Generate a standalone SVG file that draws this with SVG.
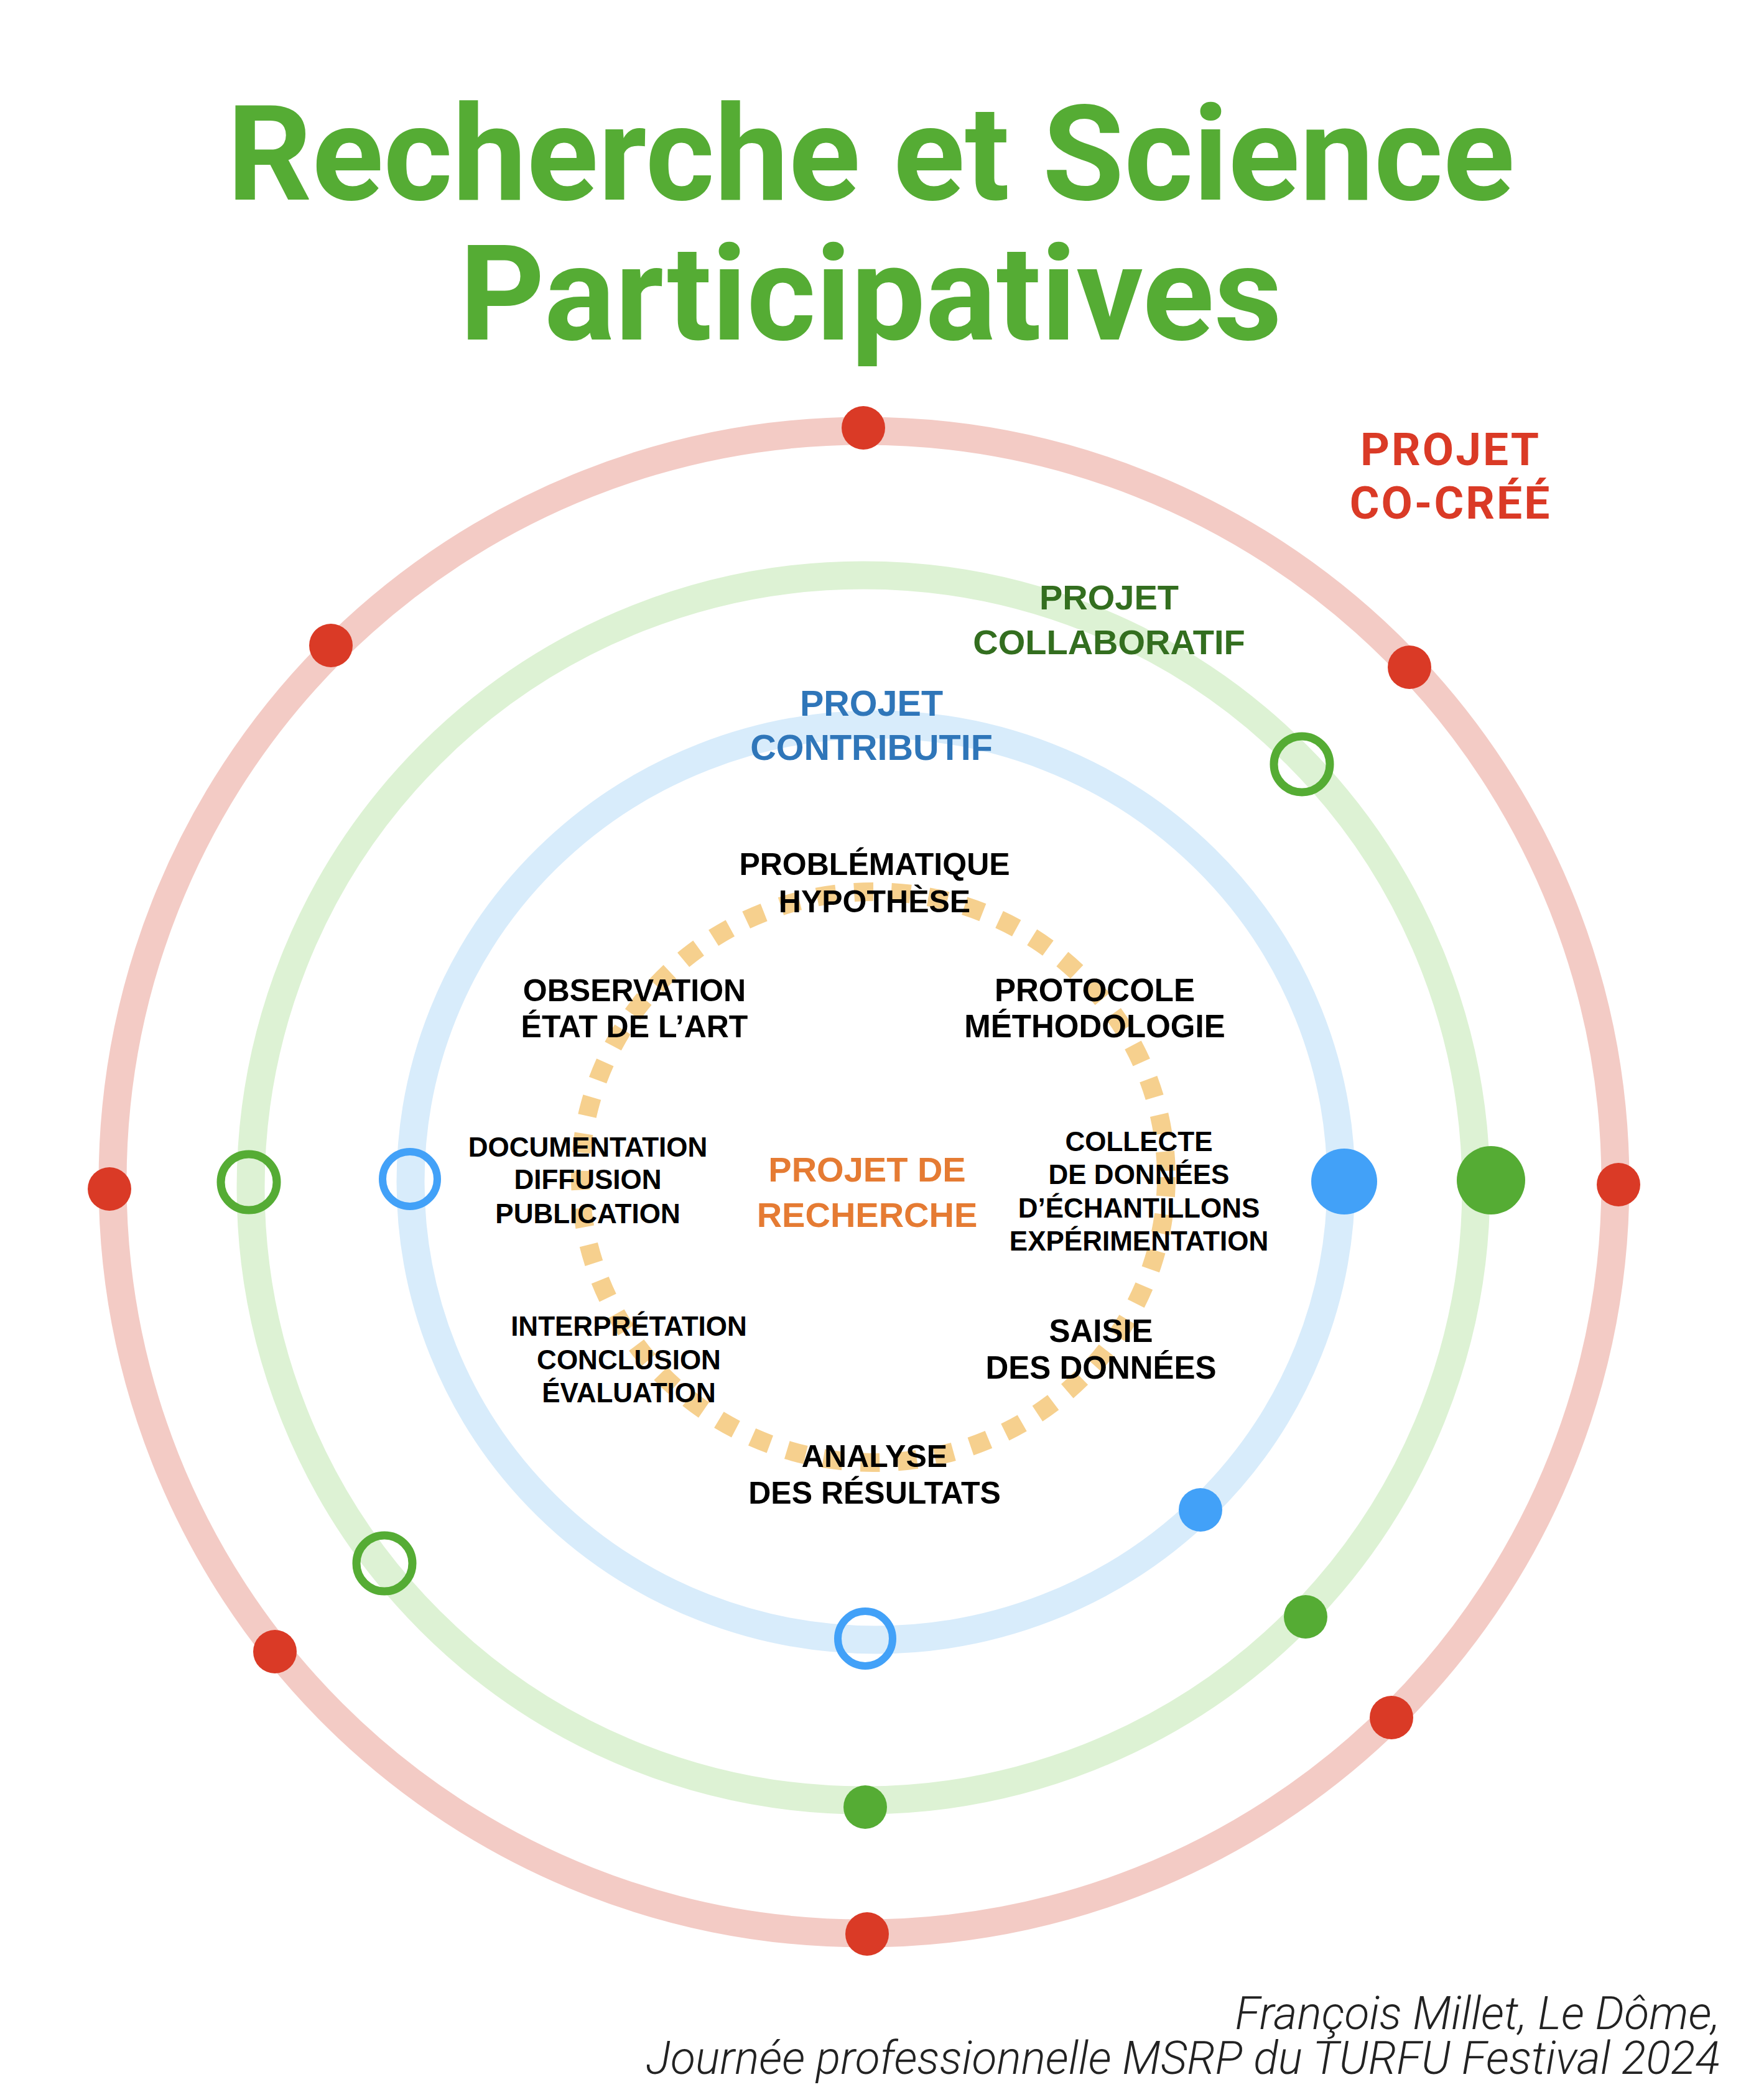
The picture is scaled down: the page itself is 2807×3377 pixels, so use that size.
<svg xmlns="http://www.w3.org/2000/svg" width="2807" height="3377" viewBox="0 0 2807 3377">
<style>
.ring{fill:none;stroke-width:45}
.r-red{stroke:#F3CBC5}
.r-green{stroke:#DDF2D4}
.r-blue{stroke:#D8ECFB}
.r-orange{fill:none;stroke:#F6D08E;stroke-width:30;stroke-dasharray:31 29}
.d-red{fill:#DA3A26}
.d-green{fill:#55AC34}
.d-blue{fill:#42A1F8}
.o-green{fill:none;stroke:#55AC34;stroke-width:13}
.o-blue{fill:none;stroke:#42A1F8;stroke-width:12}
.title{font-family:Roboto,"Liberation Sans",sans-serif;font-weight:700;font-size:213px;fill:#55AC34;text-anchor:middle}
.lbl{font-family:"Liberation Sans",Arial,sans-serif;font-weight:700;text-anchor:middle}
.step{font-family:"Liberation Sans",Arial,sans-serif;font-weight:700;fill:#000;text-anchor:middle}
.cocree{font-family:Roboto,"Liberation Sans",sans-serif;font-weight:700;font-size:73px;fill:#DA3A26;text-anchor:middle;letter-spacing:3px}
.credit{font-family:Roboto,"Liberation Sans",sans-serif;font-weight:300;font-style:italic;font-size:73.5px;fill:#222;text-anchor:end}
</style>
<rect width="2807" height="3377" fill="#fff"/>
<g id="title">
<text class="title" x="1400" y="321">Recherche et Science</text>
<text class="title" x="1400" y="546">Participatives</text>
</g>
<g id="rings">
<circle class="ring r-red" cx="1389" cy="1901" r="1208"/>
<circle class="ring r-green" cx="1388" cy="1910" r="985"/>
<ellipse class="ring r-blue" cx="1408" cy="1901" rx="748" ry="736"/>
<ellipse class="r-orange" cx="1404" cy="1893" rx="471" ry="459"/>
</g>
<g id="dots-red">
<circle class="d-red" cx="1388" cy="688" r="35"/>
<circle class="d-red" cx="532" cy="1038" r="35"/>
<circle class="d-red" cx="2266" cy="1073" r="35"/>
<circle class="d-red" cx="176" cy="1912" r="35"/>
<circle class="d-red" cx="2602" cy="1905" r="35"/>
<circle class="d-red" cx="442" cy="2656" r="35"/>
<circle class="d-red" cx="2237" cy="2762" r="35"/>
<circle class="d-red" cx="1394" cy="3110" r="35"/>
</g>
<g id="dots-green">
<circle class="o-green" cx="400" cy="1901" r="45"/>
<circle class="o-green" cx="2093" cy="1229" r="45"/>
<circle class="o-green" cx="618" cy="2514" r="45"/>
<circle class="d-green" cx="2397" cy="1898" r="55"/>
<circle class="d-green" cx="2099" cy="2600" r="35"/>
<circle class="d-green" cx="1391" cy="2906" r="35"/>
</g>
<g id="dots-blue">
<circle class="o-blue" cx="659" cy="1896" r="44"/>
<circle class="o-blue" cx="1391" cy="2635" r="44"/>
<circle class="d-blue" cx="2161" cy="1900" r="53"/>
<circle class="d-blue" cx="1930" cy="2428" r="35"/>
</g>
<g id="label-cocree">
<text class="cocree" x="2332" y="748">PROJET</text>
<text class="cocree" x="2332" y="834">CO-CRÉÉ</text>
</g>
<g id="label-collaboratif">
<text class="lbl" x="1783" y="980" font-size="56" fill="#336E1F">PROJET</text>
<text class="lbl" x="1783" y="1052" font-size="56" fill="#336E1F">COLLABORATIF</text>
</g>
<g id="label-contributif">
<text class="lbl" x="1401" y="1151" font-size="57.5" fill="#2F76B9">PROJET</text>
<text class="lbl" x="1401" y="1222" font-size="57.5" fill="#2F76B9">CONTRIBUTIF</text>
</g>
<g id="label-recherche">
<text class="lbl" x="1394" y="1900" font-size="56" fill="#E57B33">PROJET DE</text>
<text class="lbl" x="1394" y="1973" font-size="56" fill="#E57B33">RECHERCHE</text>
</g>
<g id="step-problematique">
<text class="step" x="1406" y="1407" font-size="50">PROBLÉMATIQUE</text>
<text class="step" x="1406" y="1467" font-size="50">HYPOTHÈSE</text>
</g>
<g id="step-protocole">
<text class="step" x="1760" y="1610" font-size="51">PROTOCOLE</text>
<text class="step" x="1760" y="1668" font-size="51">MÉTHODOLOGIE</text>
</g>
<g id="step-collecte">
<text class="step" x="1831" y="1851" font-size="44">COLLECTE</text>
<text class="step" x="1831" y="1904" font-size="44">DE DONNÉES</text>
<text class="step" x="1831" y="1958" font-size="44">D’ÉCHANTILLONS</text>
<text class="step" x="1831" y="2011" font-size="44">EXPÉRIMENTATION</text>
</g>
<g id="step-saisie">
<text class="step" x="1770" y="2158" font-size="51">SAISIE</text>
<text class="step" x="1770" y="2217" font-size="51">DES DONNÉES</text>
</g>
<g id="step-analyse">
<text class="step" x="1406" y="2359" font-size="50">ANALYSE</text>
<text class="step" x="1406" y="2418" font-size="50">DES RÉSULTATS</text>
</g>
<g id="step-interpretation">
<text class="step" x="1011" y="2148" font-size="44">INTERPRÉTATION</text>
<text class="step" x="1011" y="2202" font-size="44">CONCLUSION</text>
<text class="step" x="1011" y="2255" font-size="44">ÉVALUATION</text>
</g>
<g id="step-documentation">
<text class="step" x="945" y="1860" font-size="44">DOCUMENTATION</text>
<text class="step" x="945" y="1912" font-size="44">DIFFUSION</text>
<text class="step" x="945" y="1967" font-size="44">PUBLICATION</text>
</g>
<g id="step-observation">
<text class="step" x="1020" y="1610" font-size="50">OBSERVATION</text>
<text class="step" x="1020" y="1668" font-size="50">ÉTAT DE L’ART</text>
</g>
<g id="credit">
<text class="credit" x="2765" y="3263">François Millet, Le Dôme,</text>
<text class="credit" x="2765" y="3335">Journée professionnelle MSRP du TURFU Festival 2024</text>
</g>
</svg>
